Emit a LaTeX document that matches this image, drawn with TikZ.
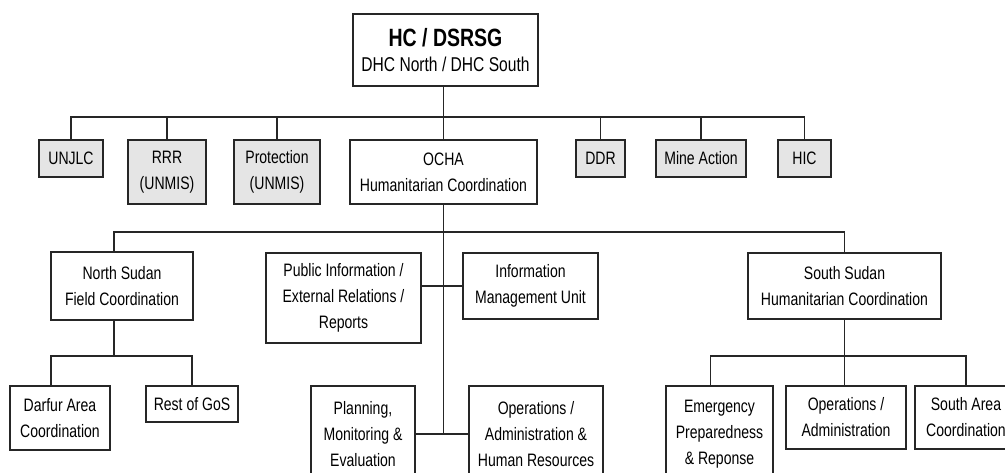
\documentclass[tikz,border=0pt]{standalone}
\usepackage{fontspec}
\setmainfont[FakeStretch=0.78]{Liberation Sans}
\usepackage{tikz}
\newcommand{\boxfont}{\fontsize{18}{26}\selectfont}

\begin{document}
\begin{tikzpicture}[x=1pt, y=-1pt,
        unit/.style={draw=black!85, line width=1.1pt, fill=white, align=center, inner sep=0pt, font=\boxfont},
        greyunit/.style={unit, fill=black!10},
        link/.style={draw=black!85, line width=1.1pt}]
        \path[use as bounding box] (0, 0) rectangle (1005, 473);
        \clip (0, 0) rectangle (1005, 473);
        \coordinate (bus1) at (0, 117);
        \coordinate (bus2) at (0, 232);
        \coordinate (bus3) at (0, 356);
        % top
        \node[unit, minimum width=185, minimum height=72] (hc) at (445.5, 50)
             {{\fontsize{25}{28}\bfseries HC / DSRSG}\\[-1pt]{\fontsize{20}{24}\selectfont DHC North / DHC South}};
        % second row
        \node[greyunit, minimum width=64, minimum height=37] (unjlc) at (71, 158.5) {UNJLC};
        \node[greyunit, minimum width=78, minimum height=64] (rrr) at (167, 172) {RRR\\(UNMIS)};
        \node[greyunit, minimum width=86, minimum height=64] (prot) at (277, 172) {Protection\\(UNMIS)};
        \node[unit, minimum width=187, minimum height=64] (ocha) at (443.5, 172) {OCHA\\Humanitarian Coordination};
        \node[greyunit, minimum width=49, minimum height=37] (ddr) at (600.5, 158.5) {DDR};
        \node[greyunit, minimum width=90, minimum height=37] (mine) at (701, 158.5) {Mine Action};
        \node[greyunit, minimum width=53, minimum height=37] (hic) at (804.5, 158.5) {HIC};
        % third row
        \node[unit, minimum width=142, minimum height=68] (ns) at (122, 286) {North Sudan\\Field Coordination};
        \node[unit, minimum width=155, minimum height=90] (pi) at (343.5, 298) {Public Information /\\External Relations /\\Reports};
        \node[unit, minimum width=135, minimum height=66] (imu) at (530.5, 286) {Information\\Management Unit};
        \node[unit, minimum width=193, minimum height=66] (ss) at (844.5, 286) {South Sudan\\Humanitarian Coordination};
        % fourth row
        \node[unit, minimum width=100, minimum height=64] (darfur) at (60, 418) {Darfur Area\\Coordination};
        \node[unit, minimum width=92, minimum height=36] (gos) at (192, 404) {Rest of GoS};
        \node[unit, minimum width=104, minimum height=96] (plan) at (363, 434) {Planning,\\Monitoring \&\\Evaluation};
        \node[unit, minimum width=134, minimum height=96] (opshr) at (536, 434) {Operations /\\Administration \&\\Human Resources};
        \node[unit, minimum width=107, minimum height=96] (epr) at (719.5, 434) {Emergency\\Preparedness\\\& Reponse};
        \node[unit, minimum width=120, minimum height=63] (opsad) at (846, 417.5) {Operations /\\Administration};
        \node[unit, minimum width=102, minimum height=63] (south) at (966, 417.5) {South Area\\Coordination};
        % connectors
        \draw[link] (hc.south -| ocha.north) -- (ocha.north);
        \draw[link] (unjlc.north) |- (bus1 -| hic.north) -- (hic.north);
        \foreach \n in {rrr,prot,ddr,mine}
        \draw[link] (\n.north) -- (\n.north |- bus1);
        \draw[link] (ocha.south) -- (ocha.south |- plan.east);
        \draw[link] ([xshift=-8]ns.north) |- (bus2 -| ss.north) -- (ss.north);
        \draw[link] (imu.west) -- (imu.west -| pi.east);
        \draw[link] (plan.east) -- (opshr.west);
        \draw[link] ([xshift=-8]ns.south) -- ([xshift=-8]ns.south |- bus3);
        \draw[link] ([xshift=-9]darfur.north) |- (bus3 -| gos.north) -- (gos.north);
        \draw[link] (ss.south) -- (ss.south |- opsad.north);
        \draw[link] ([xshift=-9]epr.north) |- (bus3 -| south.north) -- (south.north);
\end{tikzpicture}
\end{document}
